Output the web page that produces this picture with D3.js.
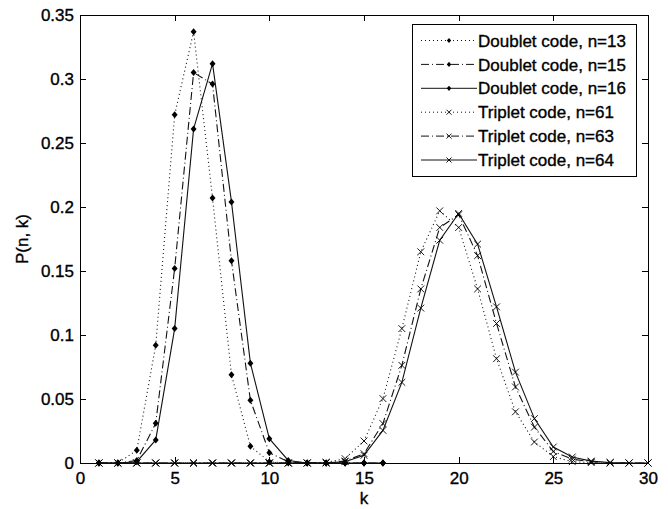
<html lang="en">
<head>
    <meta charset="UTF-8">
    <title>P(n, k)</title>
    <style>
        body { margin: 0; background: #fff; }
        text { font-family: "Liberation Sans", Arial, sans-serif; font-size: 17px; fill: #000; stroke: #000; stroke-width: 0.35px; }
        .axis path, .axis line { stroke: #000; stroke-width: 1px; shape-rendering: crispEdges; }
        .curve { fill: none; stroke: #111; stroke-width: 1.1px; }
    </style>
</head>
<body>

    <svg width="668" height="509"></svg>

    <script src="https://cdn.jsdelivr.net/npm/d3@7"></script>
    <script>
        (function() {
            'use strict';

            var LEFT = 80, RIGHT = 648, TOP = 15, BOTTOM = 463;

            // data
            var kDoublet = [1, 2, 3, 4, 5, 6, 7, 8, 9, 10, 11, 12, 13, 14, 15, 16];
            var doublet13 = [0, 0, 0.010, 0.092, 0.272, 0.337, 0.207, 0.069, 0.013, 0.001, 0, 0, 0, 0, 0, 0];
            var doublet15 = [0, 0, 0.002, 0.031, 0.152, 0.305, 0.296, 0.158, 0.049, 0.008, 0.001, 0, 0, 0, 0, 0];
            var doublet16 = [0, 0, 0.001, 0.018, 0.105, 0.261, 0.312, 0.204, 0.078, 0.019, 0.002, 0, 0, 0, 0, 0];

            var kTriplet = [1, 2, 3, 4, 5, 6, 7, 8, 9, 10, 11, 12, 13, 14, 15, 16, 17, 18, 19, 20, 21, 22, 23, 24, 25, 26, 27, 28, 29, 30];
            var triplet61 = [0, 0, 0, 0, 0, 0, 0, 0, 0, 0, 0, 0, 0.0005, 0.0034, 0.0172, 0.0503, 0.105, 0.165, 0.197, 0.184, 0.136, 0.0815, 0.040, 0.0164, 0.005, 0.001, 0.0003, 0, 0, 0];
            var triplet63 = [0, 0, 0, 0, 0, 0, 0, 0, 0, 0, 0, 0, 0.0002, 0.0015, 0.0073, 0.0308, 0.0763, 0.136, 0.184, 0.194, 0.162, 0.109, 0.0594, 0.028, 0.009, 0.003, 0.001, 0.0002, 0, 0];
            var triplet64 = [0, 0, 0, 0, 0, 0, 0, 0, 0, 0, 0, 0, 0.0001, 0.001, 0.006, 0.0255, 0.063, 0.121, 0.174, 0.195, 0.171, 0.122, 0.071, 0.0347, 0.0125, 0.0047, 0.0015, 0.0004, 0, 0];

            var xTicks = [0, 5, 10, 15, 20, 25, 30];
            var yTicks = [0, 0.05, 0.1, 0.15, 0.2, 0.25, 0.3, 0.35];

            var series = [
                { name: "Doublet code, n=13", k: kDoublet, v: doublet13, dash: "1,3", marker: "diamond" },
                { name: "Doublet code, n=15", k: kDoublet, v: doublet15, dash: "8,3,1,3", marker: "diamond" },
                { name: "Doublet code, n=16", k: kDoublet, v: doublet16, dash: null, marker: "diamond" },
                { name: "Triplet code, n=61", k: kTriplet, v: triplet61, dash: "1,3", marker: "cross" },
                { name: "Triplet code, n=63", k: kTriplet, v: triplet63, dash: "8,3,1,3", marker: "cross" },
                { name: "Triplet code, n=64", k: kTriplet, v: triplet64, dash: null, marker: "cross" }
            ];

            var svg = d3.select("svg");

            var x = d3.scaleLinear().domain([0, 30]).range([LEFT, RIGHT]);
            var y = d3.scaleLinear().domain([0, 0.35]).range([BOTTOM, TOP]);

            function fmt(d) { return d3.format("")(d); }

            // axes, ticks pointing inward on all four sides
            svg.append("g").attr("class", "axis")
                .attr("transform", "translate(0," + BOTTOM + ")")
                .call(d3.axisBottom(x).tickValues(xTicks).tickSizeInner(-6).tickSizeOuter(0).tickPadding(9).tickFormat(fmt));

            svg.append("g").attr("class", "axis")
                .attr("transform", "translate(" + LEFT + ",0)")
                .call(d3.axisLeft(y).tickValues(yTicks).tickSizeInner(-6).tickSizeOuter(0).tickPadding(6).tickFormat(fmt));

            svg.append("g").attr("class", "axis")
                .attr("transform", "translate(0," + TOP + ")")
                .call(d3.axisTop(x).tickValues(xTicks).tickSizeInner(-6).tickSizeOuter(0).tickFormat(""));

            svg.append("g").attr("class", "axis")
                .attr("transform", "translate(" + RIGHT + ",0)")
                .call(d3.axisRight(y).tickValues(yTicks).tickSizeInner(-6).tickSizeOuter(0).tickFormat(""));

            svg.selectAll(".axis text")
                .attr("font-size", null)
                .attr("font-family", null)
                .attr("fill", "#000");

            // axis labels
            svg.append("text")
                .attr("x", (LEFT + RIGHT) / 2)
                .attr("y", 504)
                .attr("text-anchor", "middle")
                .text("k");

            svg.append("text")
                .attr("transform", "translate(28," + ((TOP + BOTTOM) / 2) + ") rotate(-90)")
                .attr("text-anchor", "middle")
                .text("P(n, k)");

            // markers
            function drawMarker(sel, type, size) {
                if (type === "diamond") {
                    sel.append("path")
                        .attr("d", "M0," + (-size) + "L" + (size * 0.85) + ",0L0," + size + "L" + (-size * 0.85) + ",0Z")
                        .attr("fill", "#000")
                        .attr("stroke", "none");
                } else {
                    sel.append("path")
                        .attr("d", "M" + (-size) + "," + (-size) + "L" + size + "," + size + "M" + (-size) + "," + size + "L" + size + "," + (-size))
                        .attr("fill", "none")
                        .attr("stroke", "#000")
                        .attr("stroke-width", 0.9);
                }
            }

            var line = d3.line()
                .x(function(d) { return x(d[0]); })
                .y(function(d) { return y(d[1]); });

            var plot = svg.append("g");

            series.forEach(function(s) {
                var pts = s.k.map(function(k, i) { return [k, s.v[i]]; });

                plot.append("path")
                    .attr("class", "curve")
                    .attr("d", line(pts))
                    .attr("stroke-dasharray", s.dash);

                plot.selectAll(null)
                    .data(pts)
                    .enter()
                    .append("g")
                    .attr("transform", function(d) { return "translate(" + x(d[0]) + "," + y(d[1]) + ")"; })
                    .each(function() { drawMarker(d3.select(this), s.marker, s.marker === "diamond" ? 3.5 : 3.4); });
            });

            // legend
            var legend = svg.append("g").attr("transform", "translate(412,24)");

            legend.append("rect")
                .attr("width", 224)
                .attr("height", 152)
                .attr("fill", "#fff")
                .attr("stroke", "#000")
                .attr("stroke-width", 1)
                .attr("shape-rendering", "crispEdges");

            var item = legend.selectAll(".item")
                .data(series)
                .enter()
                .append("g")
                .attr("class", "item")
                .attr("transform", function(d, i) { return "translate(0," + (16.5 + i * 23.9) + ")"; });

            item.append("line")
                .attr("x1", 9)
                .attr("x2", 65)
                .attr("stroke", "#111")
                .attr("stroke-width", 1)
                .attr("stroke-dasharray", function(d) { return d.dash; });

            item.append("g")
                .attr("transform", "translate(37,0)")
                .each(function(d) { drawMarker(d3.select(this), d.marker, d.marker === "diamond" ? 2.6 : 2.5); });

            item.append("text")
                .attr("x", 66)
                .attr("dy", "0.36em")
                .text(function(d) { return d.name; });
        })();
    </script>
</body>
</html>
